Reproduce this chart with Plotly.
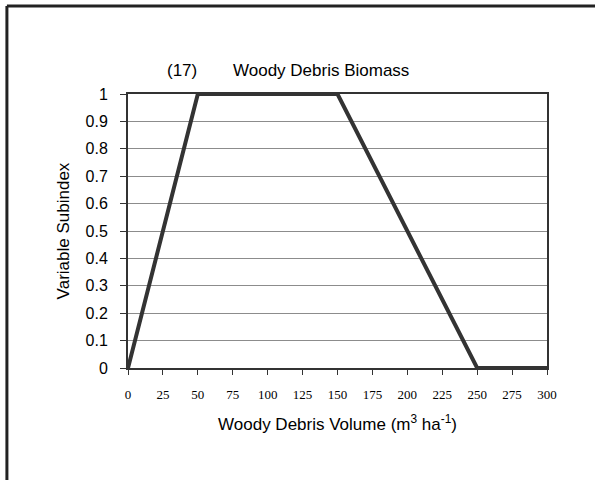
import plotly.graph_objects as go

# Suitability curve for woody debris biomass
volume = [0, 50, 150, 250, 300]
subindex = [0, 1, 1, 0, 0]

x_ticks = [0, 25, 50, 75, 100, 125, 150, 175, 200, 225, 250, 275, 300]
y_ticks = [0, 0.1, 0.2, 0.3, 0.4, 0.5, 0.6, 0.7, 0.8, 0.9, 1]
y_labels = ["0", "0.1", "0.2", "0.3", "0.4", "0.5", "0.6", "0.7", "0.8", "0.9", "1"]

fig = go.Figure()
fig.add_trace(go.Scatter(
    x=volume, y=subindex, mode="lines",
    line=dict(color="#333333", width=4),
    hoverinfo="skip", showlegend=False, cliponaxis=False,
))

sans = "Liberation Sans, Arial, sans-serif"
serif = "Liberation Serif, Times New Roman, serif"

fig.update_layout(
    width=595, height=480,
    margin=dict(l=128, r=48, t=94, b=112),
    paper_bgcolor="white", plot_bgcolor="white",
    font=dict(family=sans, color="black"),
    xaxis=dict(
        range=[0, 300], tickvals=x_ticks, ticktext=[str(v) for v in x_ticks],
        tickfont=dict(family=serif, size=13, color="black"),
        ticks="outside", ticklen=5, tickcolor="#333333", tickwidth=1,
        showgrid=False, zeroline=False,
        showline=True, linecolor="#333333", linewidth=2, mirror=True,
        ticklabelstandoff=8,
        title=dict(text="Woody Debris Volume (m<sup>3</sup> ha<sup>-1</sup>)",
                   font=dict(family=sans, size=17, color="black"), standoff=18),
    ),
    yaxis=dict(
        range=[0, 1], tickvals=y_ticks, ticktext=y_labels,
        tickfont=dict(family=sans, size=16, color="black"),
        ticks="outside", ticklen=6, tickcolor="#333333", tickwidth=1,
        showgrid=True, gridcolor="#8c8c8c", gridwidth=1, zeroline=False,
        showline=True, linecolor="#333333", linewidth=2, mirror=True,
        ticklabelstandoff=9,
        title=dict(text="Variable Subindex", font=dict(family=sans, size=17, color="black"),
                   standoff=12),
    ),
    annotations=[
        dict(text="(17)", xref="paper", yref="paper", x=0.129, y=1.084,
             xanchor="center", yanchor="middle",
             showarrow=False, font=dict(family=sans, size=17, color="black")),
        dict(text="Woody Debris Biomass", xref="paper", yref="paper", x=0.461, y=1.084,
             xanchor="center", yanchor="middle",
             showarrow=False, font=dict(family=sans, size=17, color="black")),
    ],
    shapes=[
        dict(type="line", xref="paper", yref="paper", layer="above",
             x0=-0.289, x1=1.2, y0=1.321, y1=1.321,
             line=dict(color="#222222", width=3)),
        dict(type="line", xref="paper", yref="paper", layer="above",
             x0=-0.289, x1=-0.289, y0=1.321, y1=-0.45,
             line=dict(color="#222222", width=3)),
    ],
)

fig.write_html("out.html")
